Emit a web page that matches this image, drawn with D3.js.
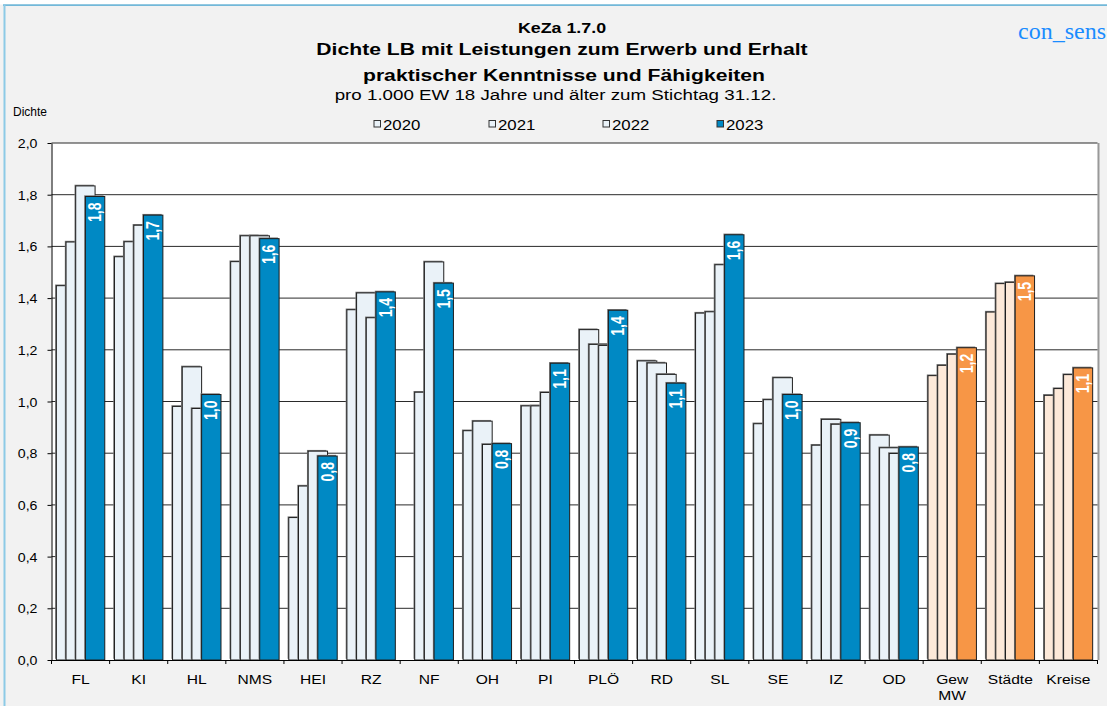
<!DOCTYPE html>
<html>
<head>
<meta charset="utf-8">
<script src="https://cdn.jsdelivr.net/npm/d3@7"></script>
<style>
  html, body { margin: 0; padding: 0; background: #f2f2f2; }
  svg { display: block; }
</style>
</head>
<body>
<svg id="chart" width="1107" height="706"></svg>
<script>
// Districts and cities, followed by the three aggregate groups
const categories = ["FL", "KI", "HL", "NMS", "HEI", "RZ", "NF", "OH", "PI", "PLÖ", "RD", "SL", "SE", "IZ", "OD", "Gew MW", "Städte", "Kreise"];
const aggregates = ["Gew MW", "Städte", "Kreise"];
const years = ["2020", "2021", "2022", "2023"];

// Density per 1,000 inhabitants aged 18+ (null = no value reported)
const v2020 = [1.448, 1.560, 0.981, 1.541, 0.551, 1.355, null, 0.887, 0.983, 1.278, 1.157, 1.342, 0.914, 0.831, 0.870, 1.100, 1.346, 1.024];
const v2021 = [1.617, 1.618, 1.134, 1.641, 0.673, 1.420, 1.036, 0.924, 0.983, 1.221, 1.149, 1.347, 1.007, 0.931, 0.821, 1.140, 1.456, 1.050];
const v2022 = [1.834, 1.682, 0.973, 1.641, 0.808, 1.324, 1.540, 0.834, 1.035, 1.217, 1.105, 1.529, 1.092, 0.912, 0.799, 1.183, 1.461, 1.104];
const v2023 = [1.793, 1.721, 1.027, 1.630, 0.789, 1.424, 1.458, 0.837, 1.148, 1.353, 1.071, 1.645, 1.027, 0.918, 0.824, 1.208, 1.486, 1.130];
const seriesValues = [v2020, v2021, v2022, v2023];

const yTicks = [0, 0.2, 0.4, 0.6, 0.8, 1.0, 1.2, 1.4, 1.6, 1.8, 2.0];

const FONT = "'Liberation Sans', Arial, Helvetica, sans-serif";
const colors = {
  light: "#eaf2f8", dark: "#0089c4",
  lightAgg: "#fde9d9", darkAgg: "#f79646"
};
const decimal = v => d3.format(".1f")(v).replace(".", ",");

const svg = d3.select("#chart");
const W = 1107, H = 706;

// page frame
svg.append("rect").attr("width", W).attr("height", H).attr("fill", "#f2f2f2");
svg.append("rect").attr("width", W).attr("height", 4.5).attr("fill", "#ffffff");
svg.append("line").attr("x1", 3).attr("x2", W).attr("y1", 5.2).attr("y2", 5.2)
  .attr("stroke", "#72b8d9").attr("stroke-width", 1.8);
svg.append("line").attr("x1", 4.5).attr("x2", 4.5).attr("y1", 4.5).attr("y2", H)
  .attr("stroke", "#8ccae6").attr("stroke-width", 2);

// text helper with horizontal stretch
function label(parent, x, y, str, o = {}) {
  const sx = o.sx || 1;
  const t = parent.append("text")
    .attr("transform", `translate(${x},${y}) scale(${sx},1)` + (o.rotate ? ` rotate(${o.rotate})` : ""))
    .attr("font-family", o.family || FONT)
    .attr("font-size", o.size || 12)
    .attr("font-weight", o.weight || "normal")
    .attr("text-anchor", o.anchor || "start")
    .attr("fill", o.fill || "#000")
    .text(str);
  if (o.baseline) t.attr("dominant-baseline", o.baseline);
  return t;
}

// titles
label(svg, 562, 32.5, "KeZa 1.7.0", { size: 15, weight: "bold", anchor: "middle", sx: 1.19 });
label(svg, 562, 55, "Dichte LB mit Leistungen zum Erwerb und Erhalt", { size: 17, weight: "bold", anchor: "middle", sx: 1.245 });
label(svg, 564, 80.5, "praktischer Kenntnisse und Fähigkeiten", { size: 17, weight: "bold", anchor: "middle", sx: 1.245 });
label(svg, 555.5, 99.5, "pro 1.000 EW 18 Jahre und älter zum Stichtag 31.12.", { size: 15, anchor: "middle", sx: 1.25 });
label(svg, 1106, 39, "con_sens", { size: 24, family: "'Liberation Serif', 'Times New Roman', serif", anchor: "end", fill: "#1a8cff" });
label(svg, 13, 116, "Dichte", { size: 12, sx: 1.0 });

// scales
const plot = { left: 51.5, right: 1097.5, top: 143, bottom: 660 };
const x = d3.scaleBand().domain(categories).range([plot.left, plot.right]).padding(0);
const y = d3.scaleLinear().domain([0, 2]).range([plot.bottom, plot.top]);

const band = x.bandwidth();
const barW = band / 3;
const step = barW / 2;
const inset = (band - (3 * step + barW)) / 2;

// plot area
svg.append("rect").attr("x", plot.left).attr("y", plot.top)
  .attr("width", plot.right - plot.left).attr("height", plot.bottom - plot.top).attr("fill", "#ffffff");
svg.append("line").attr("x1", plot.right + 1).attr("x2", plot.right + 1)
  .attr("y1", plot.top).attr("y2", plot.bottom).attr("stroke", "#999").attr("stroke-width", 2);

// gridlines
svg.append("g").selectAll("line").data(yTicks.filter(d => d > 0)).join("line")
  .attr("x1", plot.left).attr("x2", plot.right)
  .attr("y1", d => y(d)).attr("y2", d => y(d))
  .attr("stroke", "#2a2a2a").attr("stroke-width", 1);

// bars, one series after the other so later years overlap earlier ones
const barsG = svg.append("g");
seriesValues.forEach((vals, si) => {
  const rows = categories.map((c, i) => ({ c, v: vals[i] })).filter(d => d.v != null);
  const g = barsG.append("g");
  const isLast = si === years.length - 1;
  const fillOf = d => {
    const agg = aggregates.includes(d.c);
    if (isLast) return agg ? colors.darkAgg : colors.dark;
    return agg ? colors.lightAgg : colors.light;
  };
  const bx = d => x(d.c) + inset + si * step;
  // soft shadow
  g.selectAll("rect.sh").data(rows).join("rect").attr("class", "sh")
    .attr("x", d => bx(d) - 1.2).attr("y", d => y(d.v) - 1.2)
    .attr("width", barW).attr("height", d => y(0) - y(d.v))
    .attr("fill", "#7a7a7a");
  g.selectAll("rect.bar").data(rows).join("rect").attr("class", "bar")
    .attr("x", bx).attr("y", d => y(d.v))
    .attr("width", barW).attr("height", d => y(0) - y(d.v))
    .attr("fill", fillOf).attr("stroke", "#1e1e1e").attr("stroke-width", 1);
});

// value labels inside the 2023 bars
const lastRows = categories.map((c, i) => ({ c, v: v2023[i] }));
const labG = svg.append("g");
lastRows.forEach(d => {
  const cx = x(d.c) + inset + 3 * step + barW / 2;
  label(labG, cx, y(d.v) + 6, decimal(d.v), {
    size: 14, weight: "bold", anchor: "end", fill: "#ffffff", sx: 1.25, rotate: -90, baseline: "central"
  });
});

// y axis
const yAxis = svg.append("g").attr("transform", `translate(${plot.left},0)`)
  .call(d3.axisLeft(y).tickValues(yTicks).tickSize(4).tickSizeOuter(0).tickFormat(decimal));
yAxis.select(".domain").attr("stroke", "#000");
yAxis.selectAll(".tick line").attr("stroke", "#000");
yAxis.selectAll(".tick text")
  .attr("x", null).attr("dy", null)
  .attr("transform", "translate(-14,4.5) scale(1.18,1)")
  .attr("font-family", FONT).attr("font-size", 12).attr("fill", "#000");

// x axis: category labels, ticks at category boundaries
const xAxis = svg.append("g").attr("transform", `translate(0,${plot.bottom})`)
  .call(d3.axisBottom(x).tickSize(0).tickSizeOuter(0));
xAxis.select(".domain").attr("stroke", "#000");
xAxis.selectAll(".tick text").remove();
xAxis.selectAll(".tick").each(function (c) {
  const parts = c.split(" ");
  const t = d3.select(this).append("text")
    .attr("transform", "translate(0,24) scale(1.2,1)")
    .attr("font-family", FONT).attr("font-size", 13).attr("text-anchor", "middle").attr("fill", "#000");
  parts.forEach((p, k) => t.append("tspan").attr("x", 0).attr("dy", k === 0 ? 0 : 16).text(p));
});
svg.append("g").selectAll("line").data(d3.range(categories.length + 1)).join("line")
  .attr("x1", i => plot.left + i * band).attr("x2", i => plot.left + i * band)
  .attr("y1", plot.bottom).attr("y2", plot.bottom + 4)
  .attr("stroke", "#000");

// legend
const legendX = [374, 489, 603, 717];
const legend = svg.append("g");
years.forEach((yr, i) => {
  legend.append("rect").attr("x", legendX[i]).attr("y", 120.5).attr("width", 6.5).attr("height", 6.5)
    .attr("fill", i === 3 ? colors.dark : colors.light).attr("stroke", "#333").attr("stroke-width", 1);
  label(legend, legendX[i] + 9, 130, yr, { size: 14, sx: 1.2 });
});
</script>
</body>
</html>
